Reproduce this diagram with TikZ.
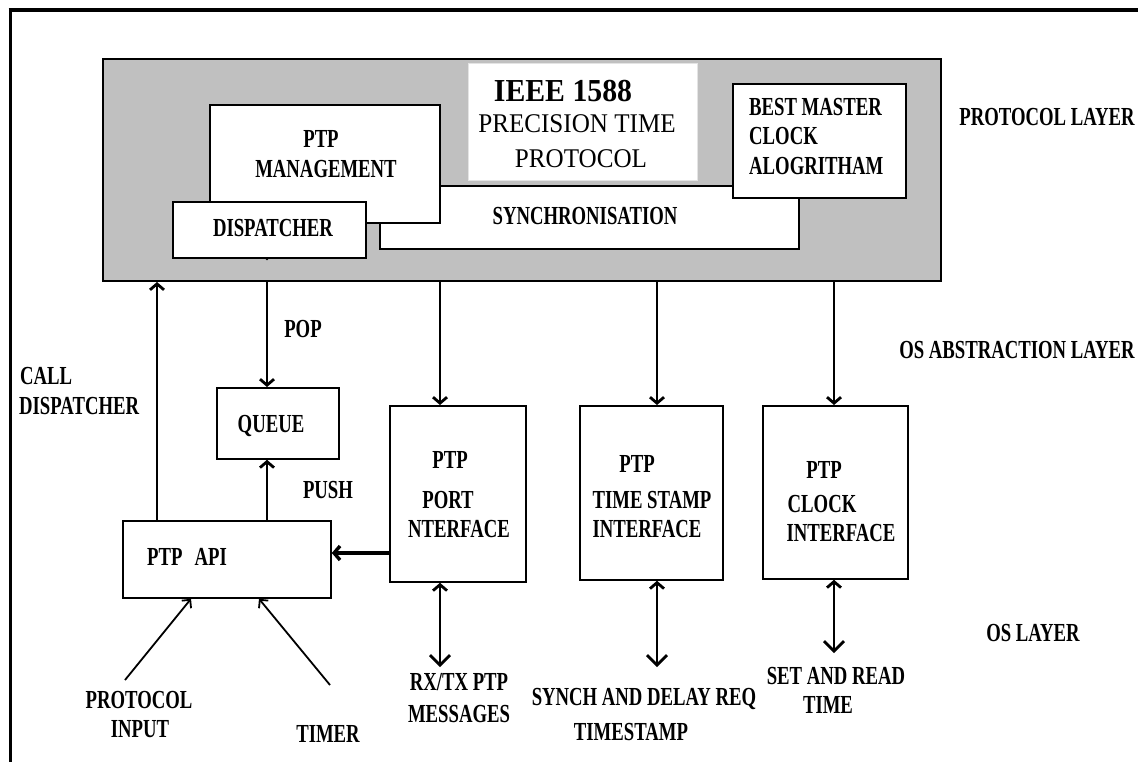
\documentclass[tikz,border=0pt]{standalone}
\usepackage{fontspec}
\setmainfont{Liberation Serif}
\newfontfamily\narrowserif{Liberation Serif}[FakeStretch=0.72]
\newfontfamily\titleserif{Liberation Serif}[FakeStretch=0.93]
\usetikzlibrary{arrows.meta}
\definecolor{panelgray}{RGB}{192,192,192}
\definecolor{titleedge}{RGB}{228,228,228}

\begin{document}
\begin{tikzpicture}[x=1pt,y=-1pt,
  box/.style={draw=black, line width=1.8pt, fill=white, inner sep=0pt, anchor=north west},
  lbl/.style={font=\narrowserif\bfseries\fontsize{26}{26}\selectfont, inner sep=0pt, anchor=base},
  lblw/.style={lbl, anchor=base west},
  flow/.style={line width=2.8pt, -{Straight Barb[length=6pt,width=14pt]}},
  both/.style={line width=2.8pt, {Straight Barb[length=6pt,width=14pt]}-{Straight Barb[length=10pt,width=20pt]}},
  feed/.style={line width=1.8pt, -{Straight Barb[length=6pt,width=12pt]}},
]
\useasboundingbox (0,0) rectangle (1138,761);
\fill[white] (0,0) rectangle (1138,761);

% page frame
\draw[line width=3pt] (10,765) -- (10,10);
\draw[line width=4pt] (8.5,10) -- (1142,10);

% protocol layer panel and its blocks
\node[box, fill=panelgray, line width=2pt, minimum width=838pt, minimum height=222pt] (panel) at (102,58) {};
\node[box, draw=titleedge, line width=1pt, minimum width=229pt, minimum height=117pt] (ieee) at (468,63) {};
\node[box, minimum width=419pt, minimum height=63pt] (sync) at (379,185) {};
\node[box, minimum width=230pt, minimum height=118pt] (mgmt) at (209,104) {};
\node[box, minimum width=193pt, minimum height=56pt] (disp) at (172,201) {};
\node[box, minimum width=173pt, minimum height=114pt] (bmca) at (732,83) {};

% OS abstraction layer blocks
\node[box, minimum width=122pt, minimum height=71pt] (queue) at (216,387) {};
\node[box, minimum width=136pt, minimum height=176pt] (port) at (389,405) {};
\node[box, minimum width=143pt, minimum height=174pt] (stamp) at (579,405) {};
\node[box, minimum width=145pt, minimum height=173pt] (clock) at (762,405) {};
\node[box, minimum width=208pt, minimum height=77pt] (api) at (122,520) {};

% positions of the connectors
\coordinate (xcall) at (157,0);
\coordinate (xqueue) at (267,0);
\coordinate (xport) at (440,0);
\coordinate (xstamp) at (657,0);
\coordinate (xclock) at (834,0);
\coordinate (yapi) at (0,553);
\coordinate (xpin) at (191,0);
\coordinate (xtim) at (259,0);
\coordinate (pin) at (125,680);
\coordinate (tin) at (330,685);
\coordinate (dport) at (440,667);
\coordinate (dstamp) at (657,667);
\coordinate (dclock) at (834,653);

\fill (disp.south -| xqueue) circle (1.6pt);

\draw[flow] (api.north -| xcall) -- (panel.south -| xcall);
\draw[flow] (panel.south -| xqueue) -- (queue.north -| xqueue);
\draw[flow] (api.north -| xqueue) -- (queue.south -| xqueue);
\draw[flow] (panel.south -| xport) -- (port.north -| xport);
\draw[flow] (panel.south -| xstamp) -- (stamp.north -| xstamp);
\draw[flow] (panel.south -| xclock) -- (clock.north -| xclock);
\draw[flow, line width=3.4pt] (port.west |- yapi) -- (api.east |- yapi);
\draw[both] (port.south -| xport) -- (dport);
\draw[both] (stamp.south -| xstamp) -- (dstamp);
\draw[both] (clock.south -| xclock) -- (dclock);
\draw[feed] (pin) -- (api.south -| xpin);
\draw[feed] (tin) -- (api.south -| xtim);

% title
\node[inner sep=0pt, anchor=base, font=\titleserif\bfseries\fontsize{32}{32}\selectfont] (t1) at (563,101) {IEEE 1588};
\node[inner sep=0pt, anchor=base, font=\titleserif\fontsize{27}{27}\selectfont] (t2) at (577,132) {PRECISION TIME};
\node[inner sep=0pt, anchor=base, font=\titleserif\fontsize{27}{27}\selectfont] (t3) at (581,167) {PROTOCOL};

% block labels
\node[lbl] (m1) at (321,147) {PTP};
\node[lbl] (m2) at (326,177) {MANAGEMENT};
\node[lbl] (d1) at (273,236) {DISPATCHER};
\node[lbl] (s1) at (585,224) {SYNCHRONISATION};
\node[lblw] (b1) at (749,115) {BEST MASTER};
\node[lblw] (b2) at (749,144) {CLOCK};
\node[lblw] (b3) at (749,174) {ALOGRITHAM};
\node[lbl] (q1) at (271,432) {QUEUE};
\node[lblw] (a1) at (147,565) {PTP\hspace{12pt}API};
\node[lbl] (p1) at (450,468) {PTP};
\node[lbl] (p2) at (448,508) {PORT};
\node[lbl] (p3) at (459,537) {NTERFACE};
\node[lbl] (ts1) at (637,472) {PTP};
\node[lbl] (ts2) at (652,508) {TIME STAMP};
\node[lbl] (ts3) at (647,537) {INTERFACE};
\node[lbl] (c1) at (824,478) {PTP};
\node[lbl] (c2) at (822,512) {CLOCK};
\node[lbl] (c3) at (841,541) {INTERFACE};

% connector labels
\node[lbl] (pop) at (303,337) {POP};
\node[lbl] (push) at (328,498) {PUSH};
\node[lblw] (cd1) at (20,384) {CALL};
\node[lblw] (cd2) at (19,414) {DISPATCHER};
\node[lbl] (in1) at (139,708) {PROTOCOL};
\node[lbl] (in2) at (140,737) {INPUT};
\node[lbl] (tm) at (328,742) {TIMER};
\node[lbl] (rx1) at (459,690) {RX/TX PTP};
\node[lbl] (rx2) at (459,722) {MESSAGES};
\node[lbl] (sy1) at (644,705) {SYNCH AND DELAY REQ};
\node[lbl] (sy2) at (631,740) {TIMESTAMP};
\node[lbl] (sr1) at (836,684) {SET AND READ};
\node[lbl] (sr2) at (828,713) {TIME};

% layer names
\node[lbl] (l1) at (1047,125) {PROTOCOL LAYER};
\node[lbl] (l2) at (1017,358) {OS ABSTRACTION LAYER};
\node[lbl] (l3) at (1033,641) {OS LAYER};
\end{tikzpicture}
\end{document}
